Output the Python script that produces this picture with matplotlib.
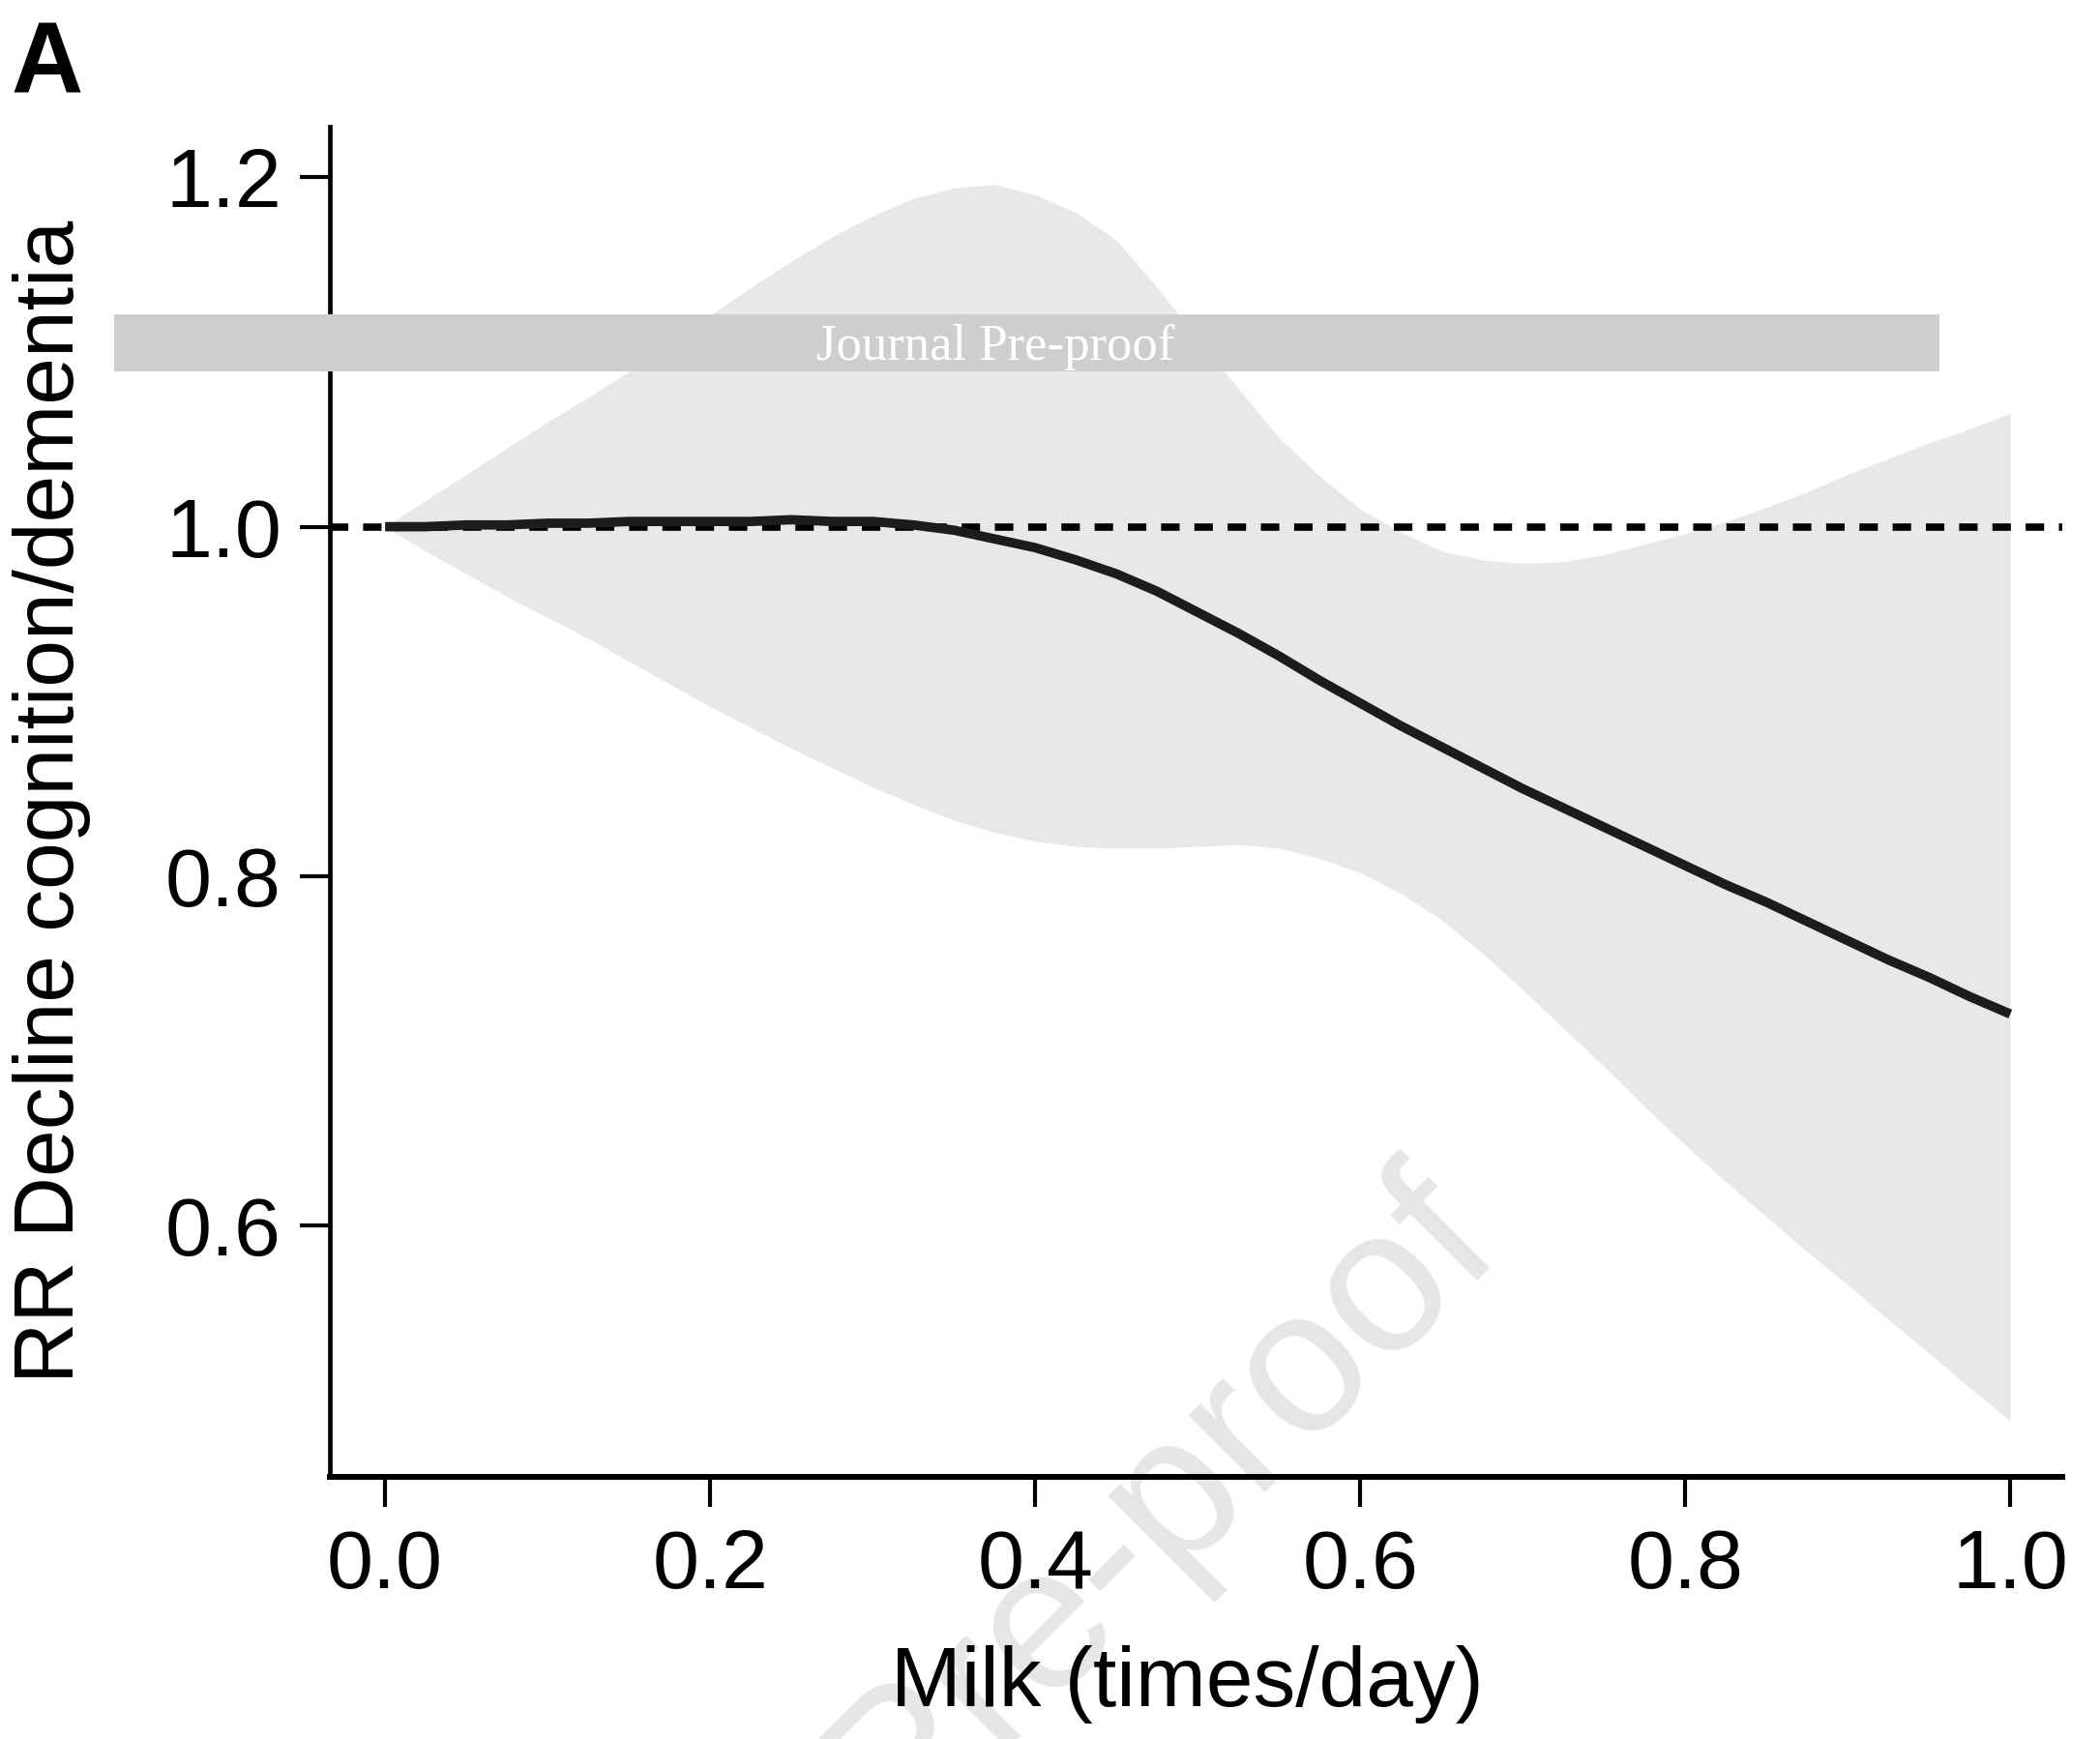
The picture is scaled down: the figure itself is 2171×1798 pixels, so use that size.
import matplotlib

matplotlib.use("Agg")
import matplotlib.pyplot as plt
from matplotlib.patches import Rectangle

plt.rcParams["font.family"] = ["Liberation Sans", "DejaVu Sans"]

# values
milk = [0.000, 0.025, 0.050, 0.075, 0.100, 0.125, 0.150, 0.175, 0.200, 0.225,
        0.250, 0.275, 0.300, 0.325, 0.350, 0.375, 0.400, 0.425, 0.450, 0.475,
        0.500, 0.525, 0.550, 0.575, 0.600, 0.625, 0.650, 0.675, 0.700, 0.725,
        0.750, 0.775, 0.800, 0.825, 0.850, 0.875, 0.900, 0.925, 0.950, 0.975, 1.000]
rr_fit = [1.000, 1.000, 1.001, 1.001, 1.002, 1.002, 1.003, 1.003, 1.003, 1.003,
          1.004, 1.003, 1.003, 1.001, 0.998, 0.993, 0.988, 0.981, 0.973, 0.963,
          0.951, 0.939, 0.926, 0.912, 0.899, 0.886, 0.874, 0.862, 0.850, 0.839,
          0.828, 0.817, 0.806, 0.795, 0.785, 0.774, 0.763, 0.752, 0.742, 0.731, 0.721]
rr_upper = [1.000, 1.015, 1.030, 1.045, 1.060, 1.074, 1.089, 1.105, 1.121, 1.137,
            1.152, 1.166, 1.178, 1.188, 1.194, 1.196, 1.190, 1.180, 1.164, 1.137,
            1.108, 1.079, 1.051, 1.029, 1.010, 0.997, 0.986, 0.981, 0.979, 0.980,
            0.984, 0.990, 0.996, 1.003, 1.011, 1.020, 1.030, 1.039, 1.048, 1.056, 1.065]
rr_lower = [1.000, 0.986, 0.973, 0.960, 0.948, 0.936, 0.923, 0.910, 0.897, 0.885,
            0.873, 0.862, 0.851, 0.841, 0.832, 0.825, 0.820, 0.817, 0.816, 0.816,
            0.817, 0.818, 0.816, 0.810, 0.802, 0.790, 0.775, 0.756, 0.735, 0.713,
            0.691, 0.668, 0.646, 0.625, 0.605, 0.585, 0.566, 0.546, 0.527, 0.507, 0.488]
xticks = [0.0, 0.2, 0.4, 0.6, 0.8, 1.0]
yticks = [0.6, 0.8, 1.0, 1.2]

W, H = 2171, 1798
fig = plt.figure(figsize=(W / 100, H / 100), dpi=100)
ax = fig.add_axes([341 / W, 271 / H, 1791 / W, 1396 / H])
ax.set_facecolor("none")

ax.fill_between(milk, rr_lower, rr_upper, color="#e8e8e8", lw=0, zorder=1)
ax.axhline(1.0, color="black", lw=5.5, dashes=(2.5, 2.0), zorder=2)
ax.plot(milk, rr_fit, color="#1c1c1c", lw=7, solid_capstyle="butt",
        solid_joinstyle="round", zorder=3)

ax.set_xlim(-0.034, 1.032)
ax.set_ylim(0.456, 1.229)
ax.set_xticks(xticks)
ax.set_xticklabels([f"{v:.1f}" for v in xticks])
ax.set_yticks(yticks)
ax.set_yticklabels([f"{v:.1f}" for v in yticks])

for side in ["top", "right"]:
    ax.spines[side].set_visible(False)
ax.spines["left"].set_linewidth(3.4)
ax.spines["bottom"].set_linewidth(4.3)
ax.tick_params(axis="both", length=22, width=3.0, labelsize=62)
ax.tick_params(axis="x", pad=16)
ax.tick_params(axis="y", pad=14)

ax.set_xlabel("Milk (times/day)", fontsize=63)
ax.set_ylabel("RR Decline cognition/dementia", fontsize=63)
ax.xaxis.set_label_coords(0.495, -0.125)
ax.yaxis.set_label_coords(-0.138, 0.5)

fig.text(11 / W, 1 - 20 / H, "A", fontsize=74, fontweight="bold", ha="left", va="top")

# diagonal watermark behind the plot
fig.text(979 / W, 1 - 1872 / H, "Journal Pre-proof", fontsize=152, color="#e6e6e6",
         rotation=45, rotation_mode="anchor", ha="center", va="baseline", zorder=-1)

# grey banner on top
fig.patches.append(Rectangle((118 / W, 1 - 383.5 / H), (2005 - 118) / W, 58.5 / H,
                             transform=fig.transFigure, facecolor="#cdced0",
                             edgecolor="none", zorder=10))
fig.text(1029 / W, 1 - 359 / H, "Journal Pre-proof", fontsize=38, color="white",
         family="Liberation Serif", ha="center", va="center", zorder=11)

fig.savefig("out.png", dpi=100)
